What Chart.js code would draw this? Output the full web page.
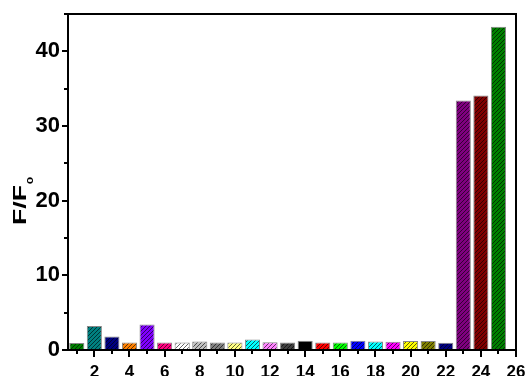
<!DOCTYPE html>
<html>
<head>
<meta charset="utf-8">
<script src="https://cdn.jsdelivr.net/npm/chart.js@4.4.1/dist/chart.umd.min.js"></script>
<style>
  html, body { margin: 0; padding: 0; background: #fff; }
  #wrap { width: 528px; height: 376px; }
</style>
</head>
<body>
<div id="wrap"><canvas id="c" width="528" height="376"></canvas></div>
<script>
// Sample index along the x axis
const samples = [1, 2, 3, 4, 5, 6, 7, 8, 9, 10, 11, 12, 13, 14, 15, 16, 17, 18, 19, 20, 21, 22, 23, 24, 25];
// Fluorescence ratio F/F0 for each sample
const ratios = [0.95, 3.2, 1.8, 1.0, 3.4, 1.0, 1.0, 1.15, 1.0, 1.0, 1.4, 1.05, 1.0, 1.25, 1.0, 1.0, 1.25, 1.15, 1.1, 1.2, 1.2, 0.97, 33.4, 34.1, 43.3];
// Fill colour of each bar
const barColors = ['#008000', '#008080', '#000080', '#ff8000', '#8000ff', '#ff0080', '#ffffff', '#c0c0c0',
  '#808080', '#ffff80', '#00ffff', '#ff80ff', '#404040', '#000000', '#ff0000', '#00ff00', '#0000ff',
  '#00ffff', '#ff00ff', '#ffff00', '#808000', '#000080', '#800080', '#800000', '#008000'];
// Axis tick values
const xMajorTicks = [2, 4, 6, 8, 10, 12, 14, 16, 18, 20, 22, 24, 26];
const yMajorTicks = [0, 10, 20, 30, 40];

// diagonal hatch fill
function hatch(color) {
  const s = 4;
  const cv = document.createElement('canvas');
  cv.width = s; cv.height = s;
  const g = cv.getContext('2d');
  g.fillStyle = color;
  g.fillRect(0, 0, s, s);
  g.strokeStyle = 'rgba(0,0,0,0.6)';
  g.lineWidth = 1;
  g.beginPath();
  g.moveTo(0, s); g.lineTo(s, 0);
  g.moveTo(-1, 1); g.lineTo(1, -1);
  g.moveTo(s - 1, s + 1); g.lineTo(s + 1, s - 1);
  g.stroke();
  return g.createPattern(cv, 'repeat');
}

const ctx = document.getElementById('c').getContext('2d');

// frame around the plot area plus outward ticks
const framePlugin = {
  id: 'frame',
  afterDraw(chart) {
    const { ctx, chartArea: a, scales } = chart;
    ctx.save();
    ctx.strokeStyle = '#000';
    ctx.lineWidth = 2;
    ctx.strokeRect(a.left, a.top, a.right - a.left, a.bottom - a.top);
    ctx.lineWidth = 2;
    ctx.beginPath();
    for (let v = 1; v <= 26; v++) {
      const px = Math.round(scales.x.getPixelForValue(v));
      const len = (v % 2 === 0) ? 7 : 4;
      ctx.moveTo(px, a.bottom); ctx.lineTo(px, a.bottom + len);
    }
    for (let v = 0; v <= 45; v += 5) {
      const py = Math.round(scales.y.getPixelForValue(v));
      const len = (v % 10 === 0) ? 6 : 4;
      ctx.moveTo(a.left, py); ctx.lineTo(a.left - len, py);
    }
    ctx.stroke();

    // y axis title F/F0 (wide lettering)
    ctx.fillStyle = '#000';
    ctx.translate(26, 225);
    ctx.rotate(-Math.PI / 2);
    ctx.font = 'bold 18px "Liberation Sans", Arial, sans-serif';
    ctx.textAlign = 'left';
    ctx.textBaseline = 'alphabetic';
    const w = ctx.measureText('F/F').width;
    const stretch = 40 / w;
    ctx.scale(stretch, 1);
    ctx.fillText('F/F', 0, 0);
    ctx.font = 'bold 9px "Liberation Sans", Arial, sans-serif';
    ctx.fillText('0', w + 0.5, 7);
    ctx.restore();
  }
};

new Chart(ctx, {
  type: 'bar',
  data: {
    datasets: [{
      data: samples.map((s, i) => ({ x: s, y: ratios[i] })),
      backgroundColor: barColors.map(hatch),
      borderColor: '#888888',
      borderWidth: 1,
      borderSkipped: 'bottom',
      barPercentage: 0.86,
      categoryPercentage: 1.0
    }]
  },
  options: {
    responsive: false,
    animation: false,
    devicePixelRatio: 1,
    layout: { padding: { left: 0, right: 12, top: 14, bottom: 0 } },
    plugins: { legend: { display: false }, tooltip: { enabled: false } },
    scales: {
      x: {
        type: 'linear',
        offset: false,
        min: 0.5,
        max: 26,
        afterFit(scale) { scale.height = 26; scale.paddingLeft = 0; scale.paddingRight = 0; },
        afterBuildTicks(scale) { scale.ticks = xMajorTicks.map(v => ({ value: v })); },
        grid: { display: false, drawTicks: false, offset: false },
        border: { display: false },
        ticks: {
          color: '#000',
          padding: 12,
          maxRotation: 0,
          autoSkip: false,
          font: { family: '"Liberation Sans", Arial, sans-serif', size: 17, weight: 'bold' }
        }
      },
      y: {
        min: 0,
        max: 45,
        afterFit(scale) { scale.width = 68; scale.paddingTop = 0; scale.paddingBottom = 0; },
        afterBuildTicks(scale) { scale.ticks = yMajorTicks.map(v => ({ value: v })); },
        grid: { display: false, drawTicks: false },
        border: { display: false },
        ticks: {
          color: '#000',
          padding: 8,
          font: { family: '"Liberation Sans", Arial, sans-serif', size: 22, weight: 'bold' }
        }
      }
    }
  },
  plugins: [framePlugin]
});
</script>
</body>
</html>
